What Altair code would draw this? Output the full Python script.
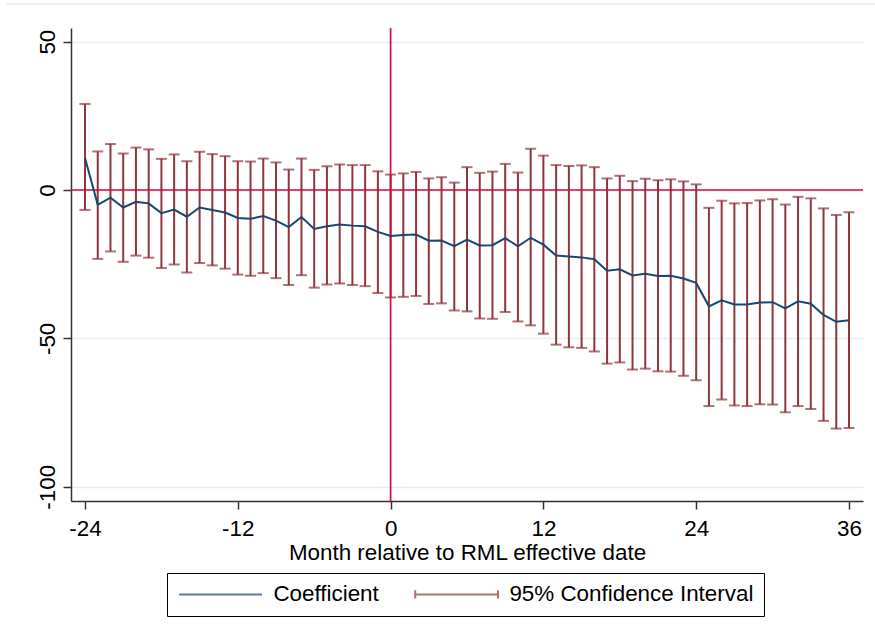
import altair as alt
import pandas as pd

# ---------------- data ----------------
months = [-24, -23, -22, -21, -20, -19, -18, -17, -16, -15, -14, -13, -12, -11, -10,
          -9, -8, -7, -6, -5, -4, -3, -2, -1, 0, 1, 2, 3, 4, 5, 6, 7, 8, 9, 10,
          11, 12, 13, 14, 15, 16, 17, 18, 19, 20, 21, 22, 23, 24, 25, 26, 27, 28,
          29, 30, 31, 32, 33, 34, 35, 36]

coef = [10.8, -5.0, -2.6, -5.9, -4.0, -4.5, -7.8, -6.6, -9.0, -5.9, -6.7, -7.6, -9.4,
        -9.7, -8.8, -10.3, -12.5, -9.1, -13.1, -12.2, -11.6, -12.0, -12.2, -14.1,
        -15.5, -15.2, -15.0, -17.1, -17.0, -18.9, -16.7, -18.7, -18.6, -16.2, -19.0,
        -16.1, -18.4, -22.1, -22.4, -22.7, -23.3, -27.2, -26.7, -28.8, -28.2, -29.0,
        -28.9, -29.8, -31.3, -39.2, -37.2, -38.6, -38.6, -37.9, -37.8, -39.9, -37.5,
        -38.3, -42.1, -44.4, -43.9]

upper = [29.0, 13.0, 15.5, 12.3, 14.3, 13.7, 10.5, 12.0, 9.7, 12.9, 12.1, 11.4, 9.7,
         9.6, 10.6, 9.3, 6.9, 10.6, 6.8, 8.0, 8.6, 8.4, 8.4, 6.3, 5.2, 5.6, 6.1, 3.9,
         4.3, 2.5, 7.7, 5.8, 6.2, 8.8, 5.9, 13.9, 11.6, 8.4, 8.1, 8.3, 7.7, 3.9, 4.8,
         3.0, 3.8, 3.3, 3.6, 2.9, 1.9, -6.0, -3.6, -4.5, -4.4, -3.5, -3.1, -4.9, -2.3,
         -2.8, -6.2, -8.4, -7.5]

lower = [-6.7, -23.2, -20.7, -24.2, -22.1, -22.8, -26.3, -25.1, -27.8, -24.6, -25.4,
         -26.5, -28.5, -28.9, -28.0, -29.7, -32.0, -28.7, -32.9, -31.8, -31.5, -32.0,
         -32.4, -34.7, -36.2, -36.0, -35.7, -38.4, -38.2, -40.6, -40.9, -43.3, -43.4,
         -41.1, -44.3, -45.6, -48.4, -52.1, -53.0, -53.2, -54.4, -58.5, -58.1, -60.5,
         -60.2, -61.1, -61.2, -62.6, -64.1, -72.8, -70.6, -72.6, -72.8, -72.2, -72.3,
         -74.9, -72.8, -73.8, -77.8, -80.4, -80.2]

x_ticks = [-24, -12, 0, 12, 24, 36]
y_ticks = [-100, -50, 0, 50]
ref_x = [0]
ref_y = [0]
series = ["Coefficient", "95% Confidence Interval"]
x_title = "Month relative to RML effective date"

df = pd.DataFrame({"month": months, "coef": coef, "upper": upper, "lower": lower})

# ---------------- style ----------------
NAVY = "#1a476f"
MAROON = "#90353b"
RED = "#d4093c"
GRID = "#e6eef1"
AXC = "#333333"
FONT = "Liberation Sans"
FS = 22.4

LINE_SYM = "M-1.5,0L12.3,0"
CI_SYM = "M-1.5,-0.7L-1.5,0.7M-1.5,0L12.3,0M12.3,-0.7L12.3,0.7"

xs = alt.Scale(domain=[-25.1, 37.1], nice=False, zero=False)
ys = alt.Scale(domain=[-104.8, 54.6], nice=False, zero=False)
cs = alt.Scale(domain=series, range=[NAVY, MAROON])
ss = alt.Scale(domain=series, range=[LINE_SYM, CI_SYM])

x_axis = alt.Axis(values=x_ticks, grid=False, labelPadding=8, titlePadding=2,
                  labelFlush=False, title=x_title, labelExpr="'' + datum.value")
y_axis = alt.Axis(values=y_ticks, grid=True, gridColor=GRID, gridWidth=1.3,
                  labelAngle=270, labelAlign="center", labelBaseline="bottom",
                  labelPadding=4, title=None, labelExpr="'' + datum.value")

X = alt.X("month:Q", scale=xs, axis=x_axis)

legend = alt.Legend(
    title=None, orient="none", legendX=96, legendY=545, direction="horizontal",
    columns=2, columnPadding=32, padding=10, strokeColor="black",
    fillColor="white", labelFontSize=FS, labelFont=FONT, labelColor="black",
    symbolSize=144, symbolStrokeWidth=2, labelOffset=74, labelLimit=500,
)
C = alt.Color("series:N", scale=cs, legend=legend)
S = alt.Shape("series:N", scale=ss, legend=legend)

base = alt.Chart(df)

top_line = alt.Chart(alt.Data(values=[{"k": 1}])).mark_rule(
    color=GRID, strokeWidth=1.3
).encode(x=alt.value(-65), x2=alt.value(804), y=alt.value(-24))

ci = base.mark_rule(strokeWidth=2).transform_calculate(
    series="'95% Confidence Interval'"
).encode(
    x=X,
    y=alt.Y("lower:Q", scale=ys, axis=y_axis),
    y2="upper:Q",
    color=C,
)

cap_hi = base.mark_tick(orient="horizontal", size=11, thickness=2, color=MAROON).encode(
    x=X, y=alt.Y("upper:Q", scale=ys, axis=y_axis)
)
cap_lo = base.mark_tick(orient="horizontal", size=11, thickness=2, color=MAROON).encode(
    x=X, y=alt.Y("lower:Q", scale=ys, axis=y_axis)
)

vref = alt.Chart(pd.DataFrame({"v": ref_x})).mark_rule(color=RED, strokeWidth=1.7).encode(
    x=alt.X("v:Q", scale=xs, axis=x_axis)
)
href = alt.Chart(pd.DataFrame({"v": ref_y})).mark_rule(color=RED, strokeWidth=1.7).encode(
    y=alt.Y("v:Q", scale=ys, axis=y_axis)
)

line = base.mark_line(strokeWidth=2).transform_calculate(
    series="'Coefficient'"
).encode(
    x=X,
    y=alt.Y("coef:Q", scale=ys, axis=y_axis),
    color=C,
)

# legend carrier: no visible points, only supplies the symbol shapes
legend_pts = base.transform_filter("false").transform_calculate(
    series="'Coefficient'"
).mark_point(filled=False, strokeWidth=2).encode(
    x=X,
    y=alt.Y("coef:Q", scale=ys, axis=y_axis),
    color=C,
    shape=S,
)

chart = alt.layer(top_line, ci, cap_hi, cap_lo, vref, href, line, legend_pts).properties(
    width=792, height=473,
    autosize=alt.AutoSizeParams(type="none"),
    padding={"left": 71, "top": 28, "right": 12, "bottom": 137},
    background="white",
).configure_view(strokeWidth=0).configure_axis(
    labelFont=FONT, titleFont=FONT, labelFontSize=FS, titleFontSize=FS,
    titleFontWeight="normal", labelColor="black", titleColor="black",
    domainColor=AXC, domainWidth=1.5, tickColor=AXC, tickWidth=1.5, tickSize=8,
)

chart.save("out.html", embed_options={"renderer": "svg", "actions": False})
